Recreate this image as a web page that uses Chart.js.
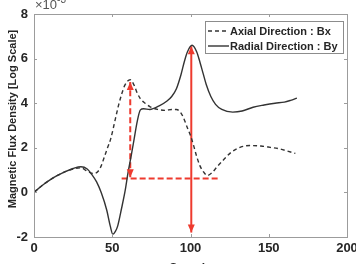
<!DOCTYPE html>
<html><head><meta charset="utf-8">
<script src="https://cdn.jsdelivr.net/npm/chart.js@4/dist/chart.umd.min.js"></script>
<style>html,body{margin:0;padding:0;background:#fff;overflow:hidden}#c{display:block}</style>
</head><body>
<canvas id="c" width="356" height="264"></canvas>
<script>
// ---- data ----
const byX = [0,5,10,15,20,25,30,34,37,40,43,46.5,48.7,50.4,52,53.5,56,58.3,60,62,64,66,68,70,74,80,85,88,91,94,96,98,101,104,106,108,110,113,116,120,127,133,140,147,154,160,164,168];
const byY = [0,0.3,0.55,0.76,0.93,1.07,1.15,1.05,0.8,0.47,-0.02,-0.8,-1.5,-1.88,-1.75,-1.5,-0.7,0.1,0.85,1.6,2.4,3.2,3.7,3.75,3.72,3.88,4.1,4.3,4.65,5.3,5.85,6.3,6.6,6.3,5.85,5.35,4.85,4.3,3.95,3.72,3.6,3.65,3.82,3.92,4.0,4.05,4.13,4.23];
const bxX = [0,5,10,15,20,25,30,34,38,41,43,45,47,49,52,54,56,58,61.5,64,66,68,71,74,79,84,88,91,93.5,95.5,98,100,102,104,106,108,110.7,114,117,121,126,132,138,145,151,157,162,167];
const bxY = [0,0.3,0.55,0.76,0.93,1.05,1.1,0.95,0.85,0.95,1.2,1.6,2.0,2.4,3.3,3.9,4.4,4.8,5.05,4.8,4.45,4.2,4.0,3.85,3.72,3.68,3.72,3.72,3.6,3.35,2.9,2.55,2.1,1.6,1.2,0.95,0.76,0.9,1.15,1.45,1.8,2.03,2.1,2.08,2.02,1.95,1.85,1.75];
const arrowAX = [61.5,61.5], arrowAY = [0.68,4.95];
const arrowBX = [100.5,100.5], arrowBY = [-1.8,6.55];
const hLineX = [56,118], hLineY = [0.62,0.62];
const xTicks = [0,50,100,150,200];
const yTicks = [-2,0,2,4,6,8];
const seriesLabels = ['Axial Direction : Bx','Radial Direction : By'];
const yTitle = 'Magnetic Flux Density [Log Scale]';
const xTitle = 'Sample';
const expText = ['\u00d710','-3'];

const pts = (xs, ys) => xs.map((x, i) => ({x, y: ys[i]}));
const RED = '#ee3a2e', INK = '#333333', TXT = '#262626', AX = '#9c9c9c';
const FONT = "'Liberation Sans', Arial, sans-serif";

const innerTicks = {
  id: 'innerTicks',
  afterDraw(chart) {
    const {ctx, chartArea: a, scales: {x, y}} = chart;
    ctx.save();
    ctx.strokeStyle = AX; ctx.lineWidth = 1;
    ctx.strokeRect(Math.round(a.left) + 0.5, Math.round(a.top) + 0.5, Math.round(a.right - a.left), Math.round(a.bottom - a.top));
    ctx.beginPath();
    xTicks.forEach(v => { const px = Math.round(x.getPixelForValue(v)) + 0.5;
      ctx.moveTo(px, a.bottom); ctx.lineTo(px, a.bottom - 3);
      ctx.moveTo(px, a.top); ctx.lineTo(px, a.top + 3); });
    yTicks.forEach(v => { const py = Math.round(y.getPixelForValue(v)) + 0.5;
      ctx.moveTo(a.left, py); ctx.lineTo(a.left + 3, py);
      ctx.moveTo(a.right, py); ctx.lineTo(a.right - 3, py); });
    ctx.stroke();
    // titles
    ctx.fillStyle = TXT;
    ctx.font = "bold 11px " + FONT;
    ctx.textAlign = 'center'; ctx.textBaseline = 'middle';
    ctx.save(); ctx.translate(13, 119); ctx.rotate(-Math.PI / 2); ctx.fillText(yTitle, 0, 0); ctx.restore();
    ctx.font = "bold 12px " + FONT; ctx.textBaseline = 'alphabetic';
    ctx.fillText(xTitle, (a.left + a.right) / 2, 272);
    ctx.fillStyle = '#555'; ctx.textAlign = 'left';
    ctx.font = "13px " + FONT; ctx.fillText(expText[0], a.left + 1, 9);
    const w = ctx.measureText(expText[0]).width;
    ctx.font = "10px " + FONT; ctx.fillText(expText[1], a.left + 1 + w, 3);
    ctx.restore();
  }
};

const arrows = {
  id: 'arrows',
  afterDatasetsDraw(chart) {
    const {ctx} = chart;
    chart.data.datasets.forEach((ds, i) => {
      if (!ds.arrow) return;
      const m = chart.getDatasetMeta(i).data;
      const p0 = m[0], p1 = m[m.length - 1];
      const head = (tip, from) => {
        const ang = Math.atan2(tip.y - from.y, tip.x - from.x);
        const L = 8, W = 3.5;
        ctx.beginPath();
        ctx.moveTo(tip.x, tip.y);
        ctx.lineTo(tip.x - L * Math.cos(ang) + W * Math.sin(ang), tip.y - L * Math.sin(ang) - W * Math.cos(ang));
        ctx.lineTo(tip.x - L * Math.cos(ang) - W * Math.sin(ang), tip.y - L * Math.sin(ang) + W * Math.cos(ang));
        ctx.closePath(); ctx.fill();
      };
      ctx.save(); ctx.fillStyle = RED;
      head(p0, p1); head(p1, p0);
      ctx.restore();
    });
  }
};

const legendBox = {
  id: 'legendBox',
  afterDraw(chart) {
    const {ctx} = chart;
    const bx = 205, by = 21, bw = 138, bh = 32;
    ctx.save();
    ctx.fillStyle = '#fff'; ctx.fillRect(bx, by, bw, bh);
    ctx.strokeStyle = '#8c8c8c'; ctx.lineWidth = 1;
    ctx.strokeRect(bx + 0.5, by + 0.5, bw, bh);
    const dsets = [chart.data.datasets[0], chart.data.datasets[1]];
    const rows = [31, 46];
    dsets.forEach((ds, i) => {
      ctx.strokeStyle = ds.borderColor; ctx.lineWidth = ds.borderWidth;
      ctx.setLineDash(ds.borderDash || []);
      ctx.beginPath(); ctx.moveTo(208, rows[i]); ctx.lineTo(229, rows[i]); ctx.stroke();
      ctx.setLineDash([]);
      ctx.fillStyle = TXT; ctx.font = "bold 11px " + FONT;
      ctx.textAlign = 'left'; ctx.textBaseline = 'middle';
      ctx.fillText(ds.label, 230, rows[i] + 0.5, 112);
    });
    ctx.restore();
  }
};

new Chart(document.getElementById('c'), {
  type: 'line',
  data: {
    datasets: [
      {label: seriesLabels[0], data: pts(bxX, bxY), borderColor: INK, borderWidth: 1.4, borderDash: [4, 3], cubicInterpolationMode: 'monotone', pointRadius: 0, fill: false},
      {label: seriesLabels[1], data: pts(byX, byY), borderColor: INK, borderWidth: 1.4, cubicInterpolationMode: 'monotone', pointRadius: 0, fill: false},
      {label: 'h', data: pts(hLineX, hLineY), borderColor: RED, borderWidth: 2, borderDash: [6, 3], pointRadius: 0, tension: 0},
      {label: 'a', arrow: true, data: pts(arrowAX, arrowAY), borderColor: RED, borderWidth: 2, borderDash: [6, 3], pointRadius: 0, tension: 0},
      {label: 'b', arrow: true, data: pts(arrowBX, arrowBY), borderColor: RED, borderWidth: 2, pointRadius: 0, tension: 0}
    ]
  },
  options: {
    responsive: false, animation: false, devicePixelRatio: 1,
    layout: {padding: {top: 14, right: 9, left: 0, bottom: 0}},
    plugins: {legend: {display: false}, tooltip: {enabled: false}},
    scales: {
      x: {type: 'linear', min: 0, max: 200,
        afterBuildTicks: s => { s.ticks = xTicks.map(v => ({value: v})); },
        afterFit: s => { s.height = 27; s.paddingLeft = 0; s.paddingRight = 0; },
        grid: {display: false, drawTicks: false}, border: {display: false},
        ticks: {padding: 4, color: TXT, font: {family: FONT, size: 13, weight: 'bold'}, maxRotation: 0}},
      y: {type: 'linear', min: -2, max: 8,
        afterBuildTicks: s => { s.ticks = yTicks.map(v => ({value: v})); },
        afterFit: s => { s.width = 34; s.paddingTop = 0; s.paddingBottom = 0; },
        grid: {display: false, drawTicks: false}, border: {display: false},
        ticks: {padding: 6, color: TXT, font: {family: FONT, size: 13, weight: 'bold'}}}
    }
  },
  plugins: [innerTicks, arrows, legendBox]
});
</script>
</body></html>
